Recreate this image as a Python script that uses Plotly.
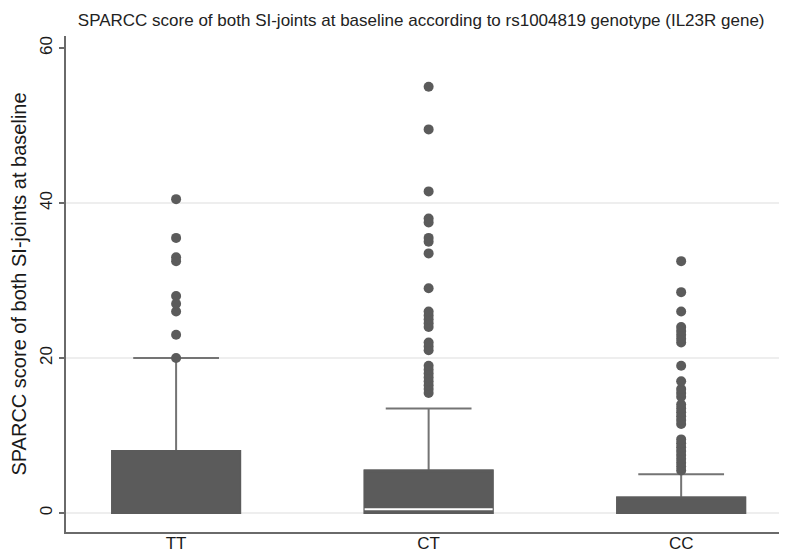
import plotly.graph_objects as go

# ---- data ----
categories = ["TT", "CT", "CC"]
q1 = [0, 0, 0]
median = [0, 0.5, 0]
q3 = [8, 5.5, 2]
lower_adjacent = [0, 0, 0]
upper_adjacent = [20, 13.5, 5]

outliers_TT = [20, 23, 26, 27, 28, 32.5, 33, 35.5, 40.5]
outliers_CT = [15.5, 16, 16.5, 17, 17.5, 18, 18.5, 19,
               21, 21.5, 22,
               24, 24.5, 25, 25.5, 26,
               29, 33.5, 35, 35.5, 37.5, 38, 41.5, 49.5, 55]
outliers_CC = [5.5, 6, 6.5, 7, 7.5, 8, 8.5, 9, 9.5,
               11.5, 12, 12.5, 13, 13.5, 14, 15, 15.5, 16, 17,
               19, 22, 22.5, 23, 23.5, 24, 26, 28.5, 32.5]

y_ticks = [0, 20, 40, 60]
grid_values = [0, 20, 40]

title_text = "SPARCC score of both SI-joints at baseline according to rs1004819 genotype (IL23R gene)"
y_title = "SPARCC score of both SI-joints at baseline"

# ---- styles ----
BOX_FILL = "#5b5b5b"
WHISKER = "#747474"
DOT = "#5b5b5b"
AXIS = "#6a6a6a"
GRID = "#e8e8e8"
FONT = "Liberation Sans, Arial, sans-serif"
BOX_W = 0.507

fig = go.Figure()

# whiskers with caps
fig.add_trace(go.Box(
    x=categories, q1=q1, median=median, q3=q3,
    lowerfence=lower_adjacent, upperfence=upper_adjacent,
    width=BOX_W, whiskerwidth=0.67,
    line=dict(color=WHISKER, width=2),
    fillcolor="rgba(0,0,0,0)", boxpoints=False,
    hoverinfo="skip", showlegend=False))

# solid boxes
fig.add_trace(go.Box(
    x=categories, q1=q1, median=q3, q3=q3,
    lowerfence=q1, upperfence=q3,
    width=BOX_W, whiskerwidth=0,
    line=dict(color=BOX_FILL, width=2),
    fillcolor=BOX_FILL, boxpoints=False,
    hoverinfo="skip", showlegend=False))

# white median lines (visible only where median lies inside the box)
med_cats = [c for c, m, a in zip(categories, median, q1) if m > a]
med_vals = [m for m, a in zip(median, q1) if m > a]
fig.add_trace(go.Box(
    x=med_cats, q1=med_vals, median=med_vals, q3=med_vals,
    lowerfence=med_vals, upperfence=med_vals,
    width=BOX_W, whiskerwidth=0,
    line=dict(color="white", width=2),
    fillcolor="rgba(0,0,0,0)", boxpoints=False,
    hoverinfo="skip", showlegend=False))

# outside values
out_x = ["TT"] * len(outliers_TT) + ["CT"] * len(outliers_CT) + ["CC"] * len(outliers_CC)
out_y = outliers_TT + outliers_CT + outliers_CC
fig.add_trace(go.Scatter(
    x=out_x, y=out_y, mode="markers",
    marker=dict(color=DOT, size=10, line=dict(width=0)),
    hoverinfo="skip", showlegend=False))

shapes = [dict(type="line", xref="paper", x0=0, x1=1, yref="y", y0=g, y1=g,
               line=dict(color=GRID, width=1.5), layer="below") for g in grid_values]

fig.update_layout(
    width=787, height=554,
    margin=dict(l=58, r=5, t=28, b=30, autoexpand=False),
    paper_bgcolor="white", plot_bgcolor="white",
    boxmode="overlay",
    font=dict(family=FONT, color="#1a1a1a"),
    title=dict(text=title_text, x=0.525, xref="container", xanchor="center",
               y=0.978, yref="container", yanchor="middle",
               font=dict(size=17, family=FONT, color="#222222")),
    shapes=shapes,
    xaxis=dict(type="category", categoryorder="array", categoryarray=categories,
               range=[-0.436, 2.431], showgrid=False, zeroline=False,
               showline=True, linecolor=AXIS, linewidth=2, automargin=False,
               ticks="", ticklen=0, ticklabelstandoff=-5,
               tickfont=dict(size=17, family=FONT, color="#1a1a1a")),
    yaxis=dict(range=[-2.45, 61.55], tickvals=y_ticks, ticktext=[str(v) for v in y_ticks],
               showgrid=False, zeroline=False, automargin=False,
               showline=True, linecolor=AXIS, linewidth=2,
               ticks="outside", ticklen=5, tickcolor=AXIS, tickwidth=1.5,
               tickangle=-90, tickfont=dict(size=17, family=FONT, color="#1a1a1a"),
               title=dict(text=y_title, standoff=6,
                          font=dict(size=20, family=FONT, color="#1a1a1a"))),
)

fig.write_html("out.html")
